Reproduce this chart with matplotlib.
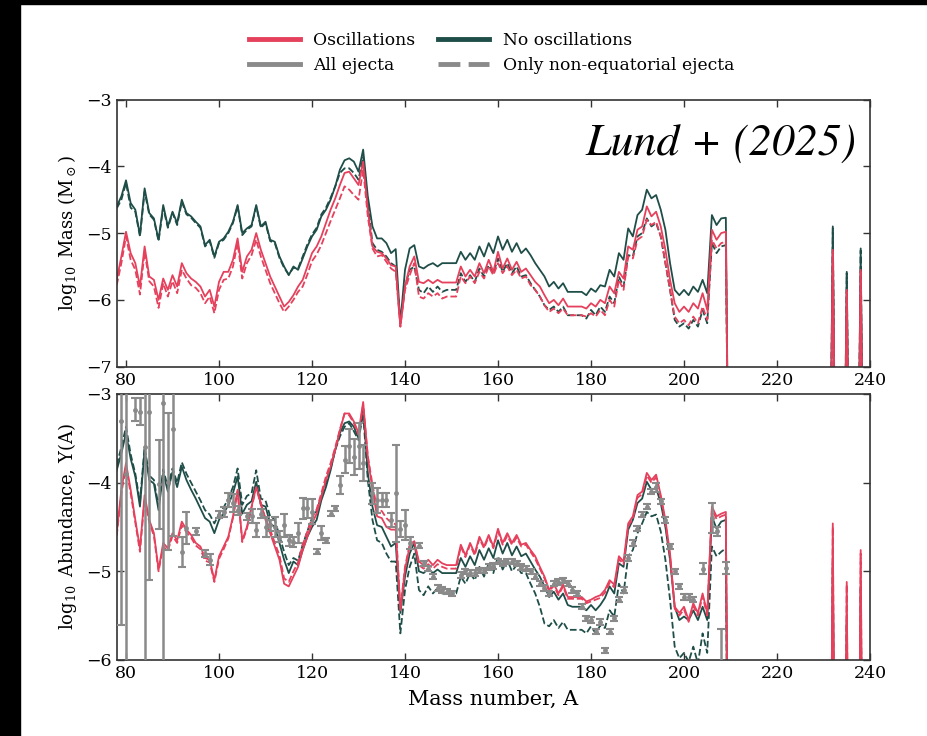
import numpy as np
import matplotlib.pyplot as plt
from matplotlib.lines import Line2D
from matplotlib.patches import Rectangle

plt.rcParams['font.family'] = ['DejaVu Serif']
plt.rcParams['mathtext.fontset'] = 'dejavuserif'

RED = '#e5405c'
GREEN = '#1f4e49'
GRAY = '#8a8a8a'

# mass numbers of the main range, then the actinide points
A_main = list(range(78, 210))
A_act = [210, 231, 232, 233, 234, 235, 236, 237, 238, 239]

# ---- top panel: log10 ejected mass ----
top_green_all = [
    -4.60, -4.45, -4.21, -4.55, -4.65, -5.03, -4.33, -4.70, -4.78, -5.10,
    -4.58, -4.90, -4.68, -4.85, -4.50, -4.70, -4.75, -4.83, -4.90, -5.18,
    -5.10, -5.35, -5.13, -5.08, -4.98, -4.83, -4.58, -5.00, -4.93, -4.88,
    -4.58, -4.90, -4.83, -5.10, -5.13, -5.35, -5.50, -5.63, -5.50, -5.55,
    -5.38, -5.20, -5.05, -4.95, -4.75, -4.65, -4.50, -4.30, -4.05, -3.91,
    -3.88, -3.93, -4.08, -3.75, -4.45, -4.90, -5.08, -5.08, -5.15, -5.30,
    -5.24, -6.35, -5.55, -5.23, -5.18, -5.50, -5.53, -5.48, -5.45, -5.50,
    -5.45, -5.45, -5.45, -5.45, -5.28, -5.40, -5.30, -5.40, -5.20, -5.35,
    -5.15, -5.30, -5.05, -5.25, -5.10, -5.28, -5.15, -5.30, -5.23, -5.33,
    -5.45, -5.55, -5.65, -5.80, -5.73, -5.83, -5.75, -5.88, -5.88, -5.88,
    -5.88, -5.93, -5.83, -5.88, -5.78, -5.80, -5.55, -5.65, -5.30, -5.40,
    -4.93, -5.05, -4.73, -4.65, -4.35, -4.48, -4.43, -4.65, -4.95, -5.45,
    -5.85, -5.93, -5.85, -5.93, -5.80, -5.88, -5.70, -5.90, -4.73, -4.88,
    -4.78, -4.77]
top_green_polar = [
    -4.63, -4.50, -4.25, -4.62, -4.68, -5.05, -4.38, -4.72, -4.80, -5.12,
    -4.62, -4.92, -4.70, -4.88, -4.53, -4.72, -4.77, -4.85, -4.92, -5.20,
    -5.12, -5.37, -5.15, -5.10, -5.00, -4.85, -4.60, -5.03, -4.95, -4.90,
    -4.60, -4.92, -4.85, -5.12, -5.15, -5.37, -5.52, -5.62, -5.52, -5.53,
    -5.35, -5.17, -5.02, -4.92, -4.72, -4.62, -4.47, -4.30, -4.10, -4.03,
    -4.03, -4.10, -4.20, -3.86, -4.55, -5.15, -5.25, -5.28, -5.35, -5.45,
    -5.50, -6.35, -5.80, -5.55, -5.50, -5.85, -5.90, -5.80, -5.88, -5.80,
    -5.88, -5.85, -5.85, -5.85, -5.60, -5.73, -5.63, -5.73, -5.53, -5.65,
    -5.48, -5.60, -5.38, -5.58, -5.45, -5.60, -5.50, -5.65, -5.63, -5.75,
    -5.85, -5.95, -6.08, -6.15, -6.10, -6.18, -6.10, -6.23, -6.23, -6.23,
    -6.23, -6.28, -6.15, -6.23, -6.10, -6.18, -5.95, -6.05, -5.65, -5.80,
    -5.33, -5.35, -5.05, -5.00, -4.78, -4.90, -4.85, -5.05, -5.45, -5.85,
    -6.30, -6.40, -6.35, -6.43, -6.30, -6.40, -6.15, -6.35, -5.15, -5.30,
    -5.20, -5.18]
top_red_all = [
    -5.70, -5.35, -4.98, -5.30, -5.45, -5.80, -5.20, -5.65, -5.70, -6.00,
    -5.68, -5.85, -5.63, -5.80, -5.45, -5.60, -5.68, -5.73, -5.80, -5.95,
    -5.85, -6.10, -5.73, -5.58, -5.58, -5.40, -5.08, -5.58, -5.35, -5.25,
    -5.00, -5.25, -5.45, -5.65, -5.80, -5.95, -6.10, -6.03, -5.93, -5.80,
    -5.70, -5.50, -5.30, -5.20, -5.05, -4.85, -4.65, -4.48, -4.28, -4.10,
    -4.08, -4.18, -4.28, -3.93, -4.65, -5.20, -5.28, -5.30, -5.38, -5.48,
    -5.50, -6.40, -5.80, -5.50, -5.35, -5.73, -5.75, -5.70, -5.75, -5.70,
    -5.74, -5.74, -5.74, -5.74, -5.50, -5.65, -5.55, -5.65, -5.45, -5.60,
    -5.40, -5.58, -5.28, -5.53, -5.38, -5.55, -5.43, -5.58, -5.53, -5.63,
    -5.73, -5.80, -5.93, -6.05, -6.00, -6.08, -5.98, -6.10, -6.10, -6.10,
    -6.10, -6.13, -6.05, -6.10, -6.00, -6.05, -5.80, -5.90, -5.58, -5.68,
    -5.20, -5.25, -4.95, -4.90, -4.60, -4.75, -4.68, -4.90, -5.25, -5.70,
    -6.05, -6.18, -6.10, -6.18, -6.05, -6.13, -5.90, -6.15, -4.95, -5.10,
    -5.00, -4.98]
top_red_polar = [
    -5.78, -5.45, -5.05, -5.40, -5.55, -5.92, -5.28, -5.72, -5.80, -6.12,
    -5.75, -5.95, -5.72, -5.90, -5.55, -5.68, -5.78, -5.82, -5.90, -6.05,
    -5.95, -6.20, -5.85, -5.70, -5.68, -5.50, -5.15, -5.68, -5.45, -5.33,
    -5.10, -5.35, -5.55, -5.75, -5.90, -6.05, -6.18, -6.10, -6.00, -5.88,
    -5.80, -5.62, -5.42, -5.32, -5.18, -5.00, -4.82, -4.65, -4.48, -4.30,
    -4.35, -4.43, -4.50, -4.05, -4.75, -5.23, -5.35, -5.33, -5.43, -5.53,
    -5.58, -6.40, -5.85, -5.63, -5.45, -5.95, -5.98, -5.90, -5.95, -5.90,
    -5.98, -5.95, -5.95, -5.95, -5.65, -5.75, -5.65, -5.75, -5.58, -5.68,
    -5.50, -5.63, -5.45, -5.60, -5.50, -5.63, -5.55, -5.68, -5.65, -5.78,
    -5.85, -5.95, -6.08, -6.18, -6.13, -6.20, -6.13, -6.23, -6.23, -6.23,
    -6.23, -6.25, -6.20, -6.25, -6.15, -6.23, -6.00, -6.10, -5.70, -5.85,
    -5.35, -5.38, -5.10, -5.05, -4.80, -4.88, -4.83, -5.05, -5.45, -5.85,
    -6.25, -6.35, -6.30, -6.38, -6.25, -6.35, -6.10, -6.30, -5.10, -5.23,
    -5.15, -5.13]
top_green_all_act = [-12, -12, -4.90, -12, -12, -5.58, -12, -12, -5.23, -12]
top_green_polar_act = [-12, -12, -4.93, -12, -12, -5.60, -12, -12, -5.26, -12]
top_red_all_act = [-12, -12, -5.25, -12, -12, -5.85, -12, -12, -5.55, -12]
top_red_polar_act = [-12, -12, -5.28, -12, -12, -5.88, -12, -12, -5.58, -12]

# ---- bottom panel: log10 abundance ----
bot_green_all = [
    -3.86, -3.67, -3.44, -3.73, -3.93, -4.27, -3.63, -3.97, -4.01, -4.31,
    -3.89, -4.10, -3.88, -4.05, -3.82, -3.97, -4.08, -4.18, -4.29, -4.40,
    -4.44, -4.57, -4.42, -4.35, -4.25, -4.12, -3.93, -4.35, -4.25, -4.21,
    -3.99, -4.25, -4.27, -4.46, -4.50, -4.68, -4.87, -5.02, -4.89, -4.93,
    -4.76, -4.61, -4.50, -4.42, -4.20, -4.05, -3.86, -3.63, -3.44, -3.33,
    -3.31, -3.37, -3.50, -3.16, -3.89, -4.27, -4.48, -4.50, -4.61, -4.72,
    -4.68, -5.47, -5.06, -4.80, -4.68, -5.00, -5.02, -4.97, -5.02, -4.98,
    -5.02, -5.02, -5.02, -5.02, -4.85, -4.95, -4.83, -4.93, -4.76, -4.87,
    -4.74, -4.85, -4.65, -4.80, -4.68, -4.82, -4.72, -4.83, -4.80, -4.89,
    -4.98, -5.06, -5.17, -5.29, -5.23, -5.32, -5.25, -5.38, -5.40, -5.40,
    -5.40, -5.44, -5.38, -5.44, -5.38, -5.30, -5.17, -5.25, -4.91, -4.95,
    -4.53, -4.42, -4.23, -4.18, -3.99, -4.08, -4.06, -4.23, -4.50, -4.87,
    -5.40, -5.55, -5.51, -5.55, -5.44, -5.55, -5.40, -5.55, -4.38, -4.52,
    -4.44, -4.42]
bot_green_polar = [
    -3.80, -3.60, -3.37, -3.68, -3.90, -4.22, -3.60, -3.92, -3.97, -4.27,
    -3.85, -4.05, -3.84, -4.00, -3.77, -3.90, -4.00, -4.10, -4.20, -4.31,
    -4.36, -4.46, -4.35, -4.28, -4.18, -4.05, -3.84, -4.25, -4.15, -4.12,
    -3.86, -4.18, -4.20, -4.38, -4.42, -4.60, -4.78, -4.93, -4.85, -4.88,
    -4.70, -4.55, -4.40, -4.32, -4.15, -4.00, -3.84, -3.63, -3.48, -3.37,
    -3.33, -3.42, -3.52, -3.22, -3.97, -4.42, -4.65, -4.68, -4.80, -4.89,
    -4.89, -5.70, -5.21, -4.95, -4.80, -5.21, -5.27, -5.17, -5.25, -5.19,
    -5.25, -5.25, -5.25, -5.25, -5.06, -5.14, -5.02, -5.10, -4.95, -5.06,
    -4.91, -5.02, -4.83, -4.98, -4.87, -5.00, -4.93, -5.02, -5.02, -5.14,
    -5.25, -5.40, -5.59, -5.62, -5.55, -5.64, -5.57, -5.66, -5.66, -5.66,
    -5.66, -5.70, -5.62, -5.70, -5.61, -5.64, -5.44, -5.51, -5.14, -5.25,
    -4.83, -4.76, -4.57, -4.46, -4.33, -4.38, -4.36, -4.55, -4.87, -5.32,
    -5.85, -5.98, -5.92, -6.02, -5.85, -6.04, -5.70, -5.92, -4.72, -4.83,
    -4.78, -4.74]
bot_red_all = [
    -4.57, -4.08, -3.78, -4.08, -4.42, -4.74, -4.14, -4.42, -4.57, -4.98,
    -4.68, -4.74, -4.57, -4.65, -4.44, -4.53, -4.59, -4.68, -4.72, -4.85,
    -4.87, -5.10, -4.83, -4.72, -4.61, -4.38, -4.08, -4.65, -4.50, -4.27,
    -4.05, -4.23, -4.42, -4.57, -4.72, -4.87, -5.14, -5.17, -5.06, -4.95,
    -4.76, -4.61, -4.46, -4.35, -4.16, -3.97, -3.82, -3.63, -3.41, -3.22,
    -3.22, -3.31, -3.44, -3.09, -3.71, -4.08, -4.38, -4.40, -4.50, -4.53,
    -4.53, -5.44, -4.98, -4.72, -4.67, -4.89, -4.93, -4.87, -4.93, -4.87,
    -4.91, -4.93, -4.93, -4.93, -4.70, -4.82, -4.68, -4.80, -4.61, -4.72,
    -4.59, -4.72, -4.52, -4.68, -4.57, -4.68, -4.59, -4.70, -4.68, -4.76,
    -4.83, -4.95, -5.06, -5.21, -5.14, -5.25, -5.15, -5.29, -5.29, -5.29,
    -5.29, -5.34, -5.32, -5.29, -5.27, -5.21, -5.10, -5.15, -4.83, -4.89,
    -4.46, -4.38, -4.14, -4.10, -3.89, -3.97, -3.91, -4.14, -4.42, -4.80,
    -5.40, -5.47, -5.40, -5.55, -5.36, -5.47, -5.25, -5.47, -4.27, -4.38,
    -4.35, -4.33]
bot_red_polar = [
    -4.60, -4.12, -3.82, -4.12, -4.45, -4.78, -4.18, -4.45, -4.60, -5.00,
    -4.72, -4.77, -4.60, -4.68, -4.48, -4.56, -4.62, -4.71, -4.75, -4.88,
    -4.90, -5.12, -4.86, -4.75, -4.63, -4.40, -4.10, -4.67, -4.52, -4.28,
    -4.06, -4.25, -4.40, -4.53, -4.68, -4.82, -5.08, -5.12, -5.00, -4.90,
    -4.70, -4.55, -4.40, -4.30, -4.12, -3.93, -3.78, -3.60, -3.40, -3.22,
    -3.24, -3.33, -3.46, -3.12, -3.70, -4.02, -4.30, -4.32, -4.40, -4.45,
    -4.47, -5.42, -4.95, -4.70, -4.66, -4.93, -4.97, -4.92, -4.97, -4.92,
    -4.95, -4.97, -4.97, -4.97, -4.72, -4.84, -4.70, -4.82, -4.63, -4.74,
    -4.61, -4.74, -4.55, -4.70, -4.60, -4.70, -4.62, -4.72, -4.70, -4.78,
    -4.86, -4.97, -5.08, -5.23, -5.16, -5.27, -5.17, -5.31, -5.31, -5.31,
    -5.31, -5.36, -5.34, -5.32, -5.30, -5.24, -5.13, -5.18, -4.86, -4.92,
    -4.49, -4.41, -4.17, -4.13, -3.92, -4.00, -3.94, -4.17, -4.45, -4.83,
    -5.42, -5.50, -5.43, -5.57, -5.39, -5.50, -5.28, -5.50, -4.30, -4.41,
    -4.38, -4.36]
bot_green_all_act = [-12, -12, -4.89, -12, -12, -5.55, -12, -12, -5.17, -12]
bot_green_polar_act = [-12, -12, -4.92, -12, -12, -5.58, -12, -12, -5.20, -12]
bot_red_all_act = [-12, -12, -4.46, -12, -12, -5.12, -12, -12, -4.76, -12]
bot_red_polar_act = [-12, -12, -4.50, -12, -12, -5.15, -12, -12, -4.80, -12]

# solar r-process residuals
sol_A = [79, 80, 82, 83, 84, 85, 87, 88, 89, 90,
         92, 93, 95, 97, 98, 100, 101, 102, 103, 104,
         106, 107, 108, 109, 110, 111, 112, 113, 114, 115,
         116, 117, 118, 119, 120, 121, 122, 123, 124, 125,
         126, 127, 128, 129, 130, 131, 133, 134, 135, 136,
         137, 138, 139, 140, 141, 143, 144, 145, 146, 147,
         148, 149, 150, 152, 153, 154, 155, 156, 157, 158,
         159, 160, 161, 162, 163, 164, 165, 166, 167, 168,
         169, 170, 171, 172, 173, 174, 175, 176, 177, 178,
         179, 180, 181, 182, 183, 184, 185, 186, 187, 188,
         189, 190, 191, 192, 193, 194, 195, 196, 197, 198,
         199, 200, 201, 202, 204, 206, 207, 208, 209]
sol_Y = [-3.30, -3.90, -3.18, -3.20, -3.60, -3.20, -4.02, -3.10, -3.99, -3.40,
         -4.78, -4.51, -4.55, -4.80, -4.87, -4.36, -4.33, -4.20, -4.23, -4.31,
         -4.38, -4.38, -4.53, -4.35, -4.50, -4.48, -4.50, -4.61, -4.48, -4.65,
         -4.67, -4.57, -4.29, -4.29, -4.33, -4.78, -4.57, -4.65, -4.35, -4.29,
         -4.03, -3.74, -3.59, -3.71, -3.59, -3.78, -4.12, -4.20, -4.20, -4.20,
         -4.42, -4.12, -4.52, -4.48, -4.68, -4.71, -4.91, -4.97, -5.06, -5.19,
         -5.21, -5.23, -5.25, -5.04, -5.00, -5.02, -5.02, -4.99, -4.99, -4.95,
         -4.94, -4.89, -4.91, -4.89, -4.89, -4.91, -4.95, -4.97, -5.00, -5.06,
         -5.14, -5.19, -5.25, -5.14, -5.12, -5.10, -5.14, -5.21, -5.25, -5.40,
         -5.53, -5.55, -5.68, -5.57, -5.89, -5.68, -5.53, -5.32, -5.21, -4.85,
         -4.68, -4.52, -4.36, -4.27, -4.10, -4.05, -4.21, -4.42, -4.72, -5.00,
         -5.17, -5.29, -5.29, -5.32, -4.97, -4.40, -4.55, -6.10, -4.96]
sol_err = [2.30, 2.50, 0.13, 0.15, 3.00, 1.90, 0.50, 3.20, 0.77, 1.20,
           0.17, 0.18, 0.04, 0.04, 0.06, 0.04, 0.06, 0.08, 0.10, 0.05,
           0.04, 0.08, 0.08, 0.05, 0.11, 0.06, 0.11, 0.06, 0.13, 0.06,
           0.06, 0.11, 0.12, 0.11, 0.14, 0.03, 0.08, 0.03, 0.03, 0.03,
           0.10, 0.15, 0.19, 0.20, 0.26, 0.20, 0.12, 0.14, 0.08, 0.08,
           0.08, 0.55, 0.09, 0.17, 0.07, 0.03, 0.03, 0.03, 0.03, 0.03,
           0.03, 0.03, 0.03, 0.03, 0.03, 0.03, 0.03, 0.03, 0.03, 0.03,
           0.03, 0.03, 0.03, 0.03, 0.03, 0.03, 0.03, 0.03, 0.03, 0.03,
           0.03, 0.03, 0.03, 0.03, 0.03, 0.03, 0.03, 0.03, 0.03, 0.03,
           0.03, 0.03, 0.03, 0.03, 0.03, 0.03, 0.03, 0.03, 0.03, 0.03,
           0.03, 0.03, 0.03, 0.03, 0.03, 0.05, 0.03, 0.03, 0.03, 0.03,
           0.03, 0.03, 0.03, 0.03, 0.06, 0.17, 0.05, 0.45, 0.07]

A_full = A_main + A_act

fig = plt.figure(figsize=(9.27, 7.36), dpi=100)
ax1 = fig.add_axes([0.1259, 0.5018, 0.8126, 0.3630])
ax2 = fig.add_axes([0.1259, 0.1033, 0.8126, 0.3614])

def draw_models(ax, ga, gp, ra, rp, ga_act, gp_act, ra_act, rp_act):
    ax.plot(A_full, ga + ga_act, color=GREEN, lw=1.3, zorder=2)
    ax.plot(A_full, gp + gp_act, color=GREEN, lw=1.3, ls='--', zorder=2)
    ax.plot(A_full, ra + ra_act, color=RED, lw=1.3, zorder=2)
    ax.plot(A_full, rp + rp_act, color=RED, lw=1.3, ls='--', zorder=2)

draw_models(ax1, top_green_all, top_green_polar, top_red_all, top_red_polar,
            top_green_all_act, top_green_polar_act, top_red_all_act, top_red_polar_act)
draw_models(ax2, bot_green_all, bot_green_polar, bot_red_all, bot_red_polar,
            bot_green_all_act, bot_green_polar_act, bot_red_all_act, bot_red_polar_act)

ax2.errorbar(sol_A, sol_Y, yerr=sol_err, fmt='o', ms=2.5, color=GRAY,
             ecolor=GRAY, elinewidth=1.8, capsize=3, capthick=1.5, zorder=3)

for ax, ylo in [(ax1, -7), (ax2, -6)]:
    ax.set_xlim(78, 240)
    ax.set_ylim(ylo, -3)
    ax.set_xticks([80, 100, 120, 140, 160, 180, 200, 220, 240])
    ax.set_yticks(np.arange(ylo, -2.5, 1))
    ax.tick_params(direction='in', top=True, right=True, length=5, width=1,
                   labelsize=12.5, color='#333333')
    for sp in ax.spines.values():
        sp.set_color('#333333')
        sp.set_linewidth(1.2)

ax1.set_ylabel(r'$\log_{10}$ Mass (M$_\odot$)', fontsize=13, labelpad=5)
ax2.set_ylabel(r'$\log_{10}$ Abundance, Y(A)', fontsize=13, labelpad=5)
ax2.set_xlabel('Mass number, A', fontsize=15, labelpad=6)

ax1.text(0.982, 0.905, 'Lund + (2025)', transform=ax1.transAxes,
         ha='right', va='top', fontsize=33, family='STIXGeneral', style='italic')

handles = [Line2D([], [], color=RED, lw=3.5),
           Line2D([], [], color=GRAY, lw=3.5),
           Line2D([], [], color=GREEN, lw=3.5),
           Line2D([], [], color=GRAY, lw=3.5, ls=(0, (4.5, 1.7)))]
labels = ['Oscillations', 'All ejecta', 'No oscillations', 'Only non-equatorial ejecta']
fig.legend(handles, labels, ncol=2, loc='upper center', bbox_to_anchor=(0.53, 0.977),
           frameon=False, fontsize=12.3, handlelength=3.0, handletextpad=0.8,
           columnspacing=1.3, labelspacing=0.45)

# black strips along the left and top edges of the original picture
fig.patches.append(Rectangle((0, 0), 20 / 927, 1, transform=fig.transFigure,
                             color='black', zorder=10))
fig.patches.append(Rectangle((0, 1 - 4 / 736), 1, 4 / 736, transform=fig.transFigure,
                             color='black', zorder=10))

fig.savefig('out.png', dpi=100)
